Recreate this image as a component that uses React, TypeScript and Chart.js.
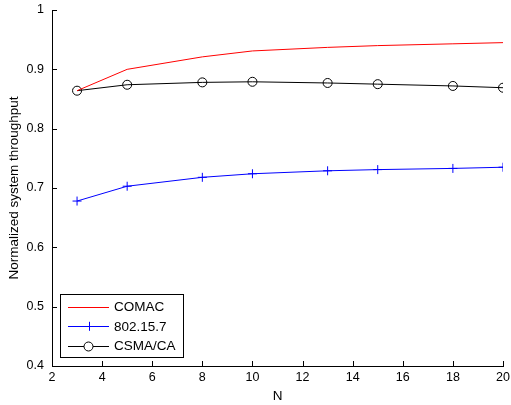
import React, { useEffect, useRef } from "react";
import { Chart, registerables } from "chart.js";

Chart.register(...registerables);

const nValues = [3, 5, 8, 10, 13, 15, 18, 20];
const comac = [0.864, 0.9, 0.921, 0.931, 0.937, 0.94, 0.943, 0.945];
const ieee802157 = [0.678, 0.703, 0.718, 0.724, 0.729, 0.731, 0.733, 0.735];
const csmaCa = [0.864, 0.874, 0.878, 0.879, 0.877, 0.875, 0.872, 0.869];
const seriesLabels = ["COMAC", "802.15.7", "CSMA/CA"];
const xTitle = "N";
const yTitle = "Normalized system throughput";

const FONT = "'Liberation Sans', Arial, Helvetica, sans-serif";

const inwardTicks = {
  id: "inwardTicks",
  afterDraw(chart: any) {
    const ctx = chart.ctx;
    const area = chart.chartArea;
    const xs = chart.scales.x;
    const ys = chart.scales.y;
    ctx.save();
    ctx.strokeStyle = "#000";
    ctx.lineWidth = 1;
    ctx.beginPath();
    xs.ticks.forEach((t: any) => {
      const px = Math.round(xs.getPixelForValue(t.value)) + 0.5;
      ctx.moveTo(px, area.bottom);
      ctx.lineTo(px, area.bottom - 5);
    });
    ys.ticks.forEach((t: any) => {
      const py = Math.round(ys.getPixelForValue(t.value)) + 0.5;
      ctx.moveTo(area.left, py);
      ctx.lineTo(area.left + 5, py);
    });
    ctx.stroke();
    ctx.restore();
  },
};

const boxLegend = {
  id: "boxLegend",
  afterDraw(chart: any) {
    const ctx = chart.ctx;
    const area = chart.chartArea;
    const x0 = Math.round(area.left) + 8;
    const y0 = Math.round(area.bottom) - 72;
    const w = 123;
    const h = 63;
    ctx.save();
    ctx.fillStyle = "#fff";
    ctx.fillRect(x0, y0, w, h);
    ctx.strokeStyle = "#000";
    ctx.lineWidth = 1;
    ctx.strokeRect(x0 + 0.5, y0 + 0.5, w, h);
    ctx.font = `13.5px ${FONT}`;
    ctx.textBaseline = "middle";
    chart.data.datasets.forEach((ds: any, i: number) => {
      const cy = y0 + 13 + i * 19.3;
      const lx1 = x0 + 8;
      const lx2 = x0 + 49;
      ctx.strokeStyle = ds.borderColor;
      ctx.lineWidth = 1;
      ctx.beginPath();
      ctx.moveTo(lx1, Math.round(cy) + 0.5);
      ctx.lineTo(lx2, Math.round(cy) + 0.5);
      ctx.stroke();
      const mx = (lx1 + lx2) / 2;
      if (ds.pointStyle === "circle" && ds.pointRadius > 0) {
        ctx.beginPath();
        ctx.arc(mx, Math.round(cy) + 0.5, ds.pointRadius, 0, Math.PI * 2);
        ctx.fillStyle = "#fff";
        ctx.fill();
        ctx.stroke();
      } else if (ds.pointStyle === "cross" && ds.pointRadius > 0) {
        ctx.beginPath();
        ctx.moveTo(mx - ds.pointRadius, Math.round(cy) + 0.5);
        ctx.lineTo(mx + ds.pointRadius, Math.round(cy) + 0.5);
        ctx.moveTo(Math.round(mx) + 0.5, cy - ds.pointRadius);
        ctx.lineTo(Math.round(mx) + 0.5, cy + ds.pointRadius);
        ctx.stroke();
      }
      ctx.fillStyle = "#000";
      ctx.fillText(ds.label, x0 + 54, cy + 0.5);
    });
    ctx.restore();
  },
};

export default function App() {
  const ref = useRef<HTMLCanvasElement>(null);
  useEffect(() => {
    if (!ref.current) return;
    const chart = new Chart(ref.current, {
      type: "line",
      data: {
        datasets: [
          {
            label: seriesLabels[0],
            data: nValues.map((n, i) => ({ x: n, y: comac[i] })),
            borderColor: "#ff0000",
            backgroundColor: "#ff0000",
            borderWidth: 1,
            pointRadius: 0,
            pointStyle: "line",
          },
          {
            label: seriesLabels[1],
            data: nValues.map((n, i) => ({ x: n, y: ieee802157[i] })),
            borderColor: "#0000ff",
            backgroundColor: "#0000ff",
            borderWidth: 1,
            pointRadius: 4.5,
            pointStyle: "cross",
            pointBorderWidth: 1,
          },
          {
            label: seriesLabels[2],
            data: nValues.map((n, i) => ({ x: n, y: csmaCa[i] })),
            borderColor: "#000000",
            backgroundColor: "rgba(0,0,0,0)",
            borderWidth: 1,
            pointRadius: 4.5,
            pointStyle: "circle",
            pointBorderWidth: 1,
          },
        ],
      },
      options: {
        responsive: false,
        animation: false,
        events: [],
        layout: { padding: { top: 10, right: 8, left: 0, bottom: 0 } },
        plugins: { legend: { display: false }, tooltip: { enabled: false } },
        elements: { line: { tension: 0 } },
        scales: {
          x: {
            type: "linear",
            min: 2,
            max: 20,
            afterFit: (s: any) => {
              s.height = 39;
              s.paddingLeft = 0;
              s.paddingRight = 0;
            },
            grid: { display: false, drawTicks: false },
            border: { display: true, color: "#000", width: 1 },
            ticks: {
              stepSize: 2,
              padding: 4,
              color: "#000",
              font: { family: FONT, size: 12.5 },
              maxRotation: 0,
            },
            title: {
              display: true,
              text: xTitle,
              color: "#000",
              font: { family: FONT, size: 13.5 },
              padding: { top: 0, bottom: 1 },
            },
          },
          y: {
            type: "linear",
            min: 0.4,
            max: 1,
            afterFit: (s: any) => {
              s.width = 52;
              s.paddingTop = 0;
              s.paddingBottom = 0;
            },
            grid: { display: false, drawTicks: false },
            border: { display: true, color: "#000", width: 1 },
            ticks: {
              stepSize: 0.1,
              padding: 8,
              color: "#000",
              font: { family: FONT, size: 12.5 },
              callback: (v: any) => String(Number(Number(v).toFixed(1))),
            },
            title: {
              display: true,
              text: yTitle,
              color: "#000",
              font: { family: FONT, size: 13.5 },
              padding: { top: 6, bottom: 0 },
            },
          },
        },
      },
      plugins: [inwardTicks, boxLegend],
    });
    return () => chart.destroy();
  }, []);
  return (
    <div style={{ position: "absolute", left: 0, top: 0, width: 511, height: 405, background: "#fff" }}>
      <canvas ref={ref} width={511} height={405} style={{ display: "block", width: 511, height: 405 }} />
    </div>
  );
}
